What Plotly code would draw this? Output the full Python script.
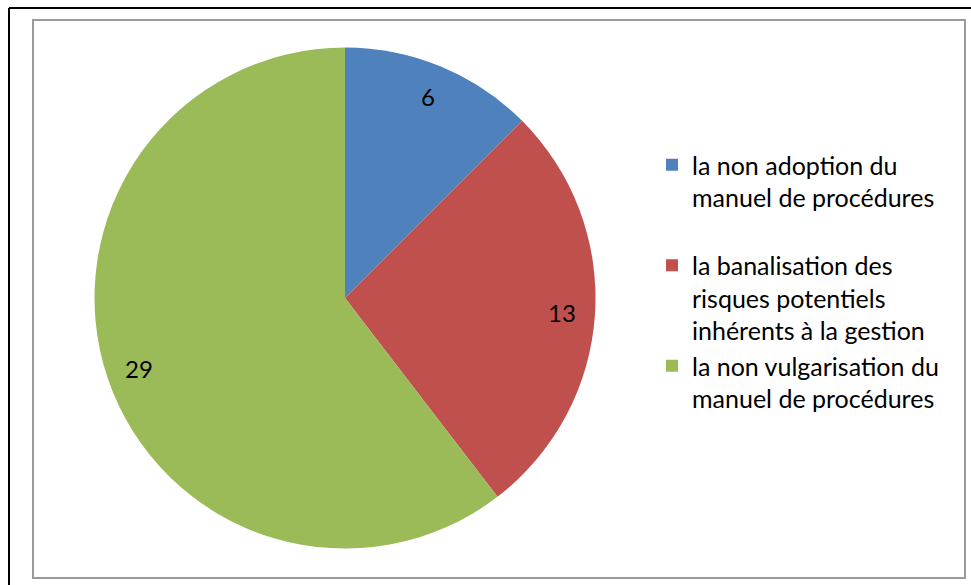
import math
import plotly.graph_objects as go

labels = [
    "la non adoption du<br>manuel de procédures<br> ",
    "la banalisation des<br>risques potentiels<br>inhérents à la gestion",
    "la non vulgarisation du<br>manuel de procédures",
]
values = [6, 13, 29]
colors = ["#4F81BD", "#C0504D", "#9BBB59"]

W, H = 971, 585
cx, cy, R = 345, 298, 250.5
FONT = "Lato"

fig = go.Figure(go.Pie(
    labels=labels,
    values=values,
    sort=False,
    direction="clockwise",
    rotation=0,
    marker=dict(colors=colors, line=dict(width=0)),
    textinfo="none",
    hoverinfo="label+value",
    domain=dict(x=[(cx - R) / W, (cx + R) / W], y=[1 - (cy + R) / H, 1 - (cy - R) / H]),
))

# value labels placed along each slice's mid-angle (computed from the data)
total = sum(values)
cum = 0
annotations = []
for v in values:
    mid = (cum + v / 2) / total * 2 * math.pi
    cum += v
    px = cx + 0.87 * R * math.sin(mid)
    py = cy - 0.87 * R * math.cos(mid)
    annotations.append(dict(
        x=px / W, y=1 - py / H, xref="paper", yref="paper",
        text=str(v), showarrow=False,
        font=dict(family=FONT, size=24, color="#000"),
        xanchor="center", yanchor="middle",
    ))

shapes = [
    # outer black frame (top and left edges)
    dict(type="line", xref="paper", yref="paper", x0=9 / W, y0=1 - 8 / H, x1=1.01, y1=1 - 8 / H,
         line=dict(color="#000", width=2)),
    dict(type="line", xref="paper", yref="paper", x0=9 / W, y0=1 - 8 / H, x1=9 / W, y1=-0.01,
         line=dict(color="#000", width=2)),
    # inner gray chart-area frame
    dict(type="rect", xref="paper", yref="paper", x0=33 / W, y0=1 - 578 / H, x1=965 / W, y1=1 - 20 / H,
         line=dict(color="#9a9a9a", width=2)),
]

fig.update_layout(
    width=W, height=H,
    margin=dict(l=0, r=0, t=0, b=0),
    paper_bgcolor="white",
    plot_bgcolor="white",
    showlegend=True,
    legend=dict(
        x=652 / W, y=1 - 142 / H, xanchor="left", yanchor="top",
        font=dict(family=FONT, size=25, color="#000"),
        valign="top",
        bgcolor="rgba(0,0,0,0)",
    ),
    annotations=annotations,
    shapes=shapes,
)

fig.write_html("out.html")
